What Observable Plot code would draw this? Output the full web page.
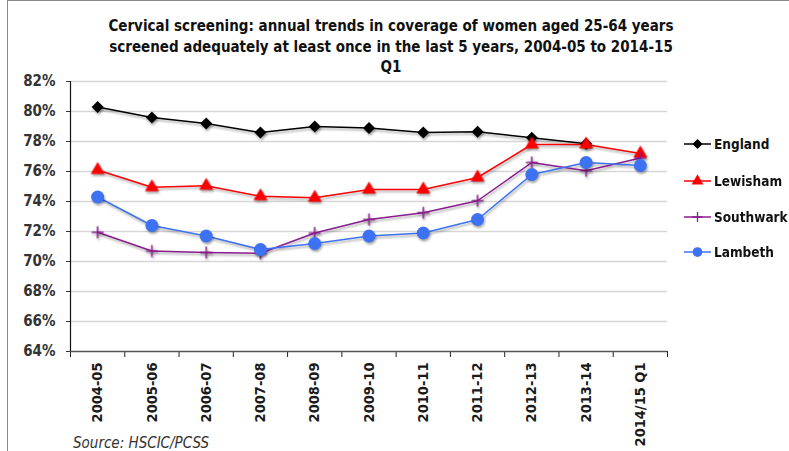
<!DOCTYPE html>
<html>
<head>
<meta charset="utf-8">
<script src="https://cdn.jsdelivr.net/npm/d3@7"></script>
<script src="https://cdn.jsdelivr.net/npm/@observablehq/plot@0.6"></script>
<style>
  body { margin: 0; background: #fff; }
  #wrap { position: relative; width: 789px; height: 451px; overflow: hidden;
          font-family: "DejaVu Sans Condensed", "DejaVu Sans", sans-serif; font-stretch: condensed; }
  #frame { position: absolute; left: 7px; top: 0; width: 790px; height: 460px;
           border-top: 1.5px solid #8a8a8a; border-left: 1.5px solid #8a8a8a; box-sizing: border-box; pointer-events: none; }
  #title { position: absolute; left: 0; width: 782px; top: 16px; text-align: center;
           font-weight: bold; font-size: 15px; line-height: 20.5px; color: #111; }
  #source { position: absolute; left: 73px; top: 436px; font-style: italic; font-size: 15px; line-height: 14px; color: #333; }
  .leg { position: absolute; left: 684px; display: flex; align-items: center; height: 16px;
         font-weight: bold; font-size: 13.5px; color: #111; }
  .leg svg { display: block; margin-right: 2px; }
  #chart { position: absolute; left: 0; top: 0; }
</style>
</head>
<body>
<div id="wrap">
  <div id="chart"></div>
  <div id="title">Cervical screening: annual trends in coverage of women aged 25-64 years<br>screened adequately at least once in the last 5 years, 2004-05 to 2014-15<br>Q1</div>
  <div id="source">Source: HSCIC/PCSS</div>
  <div id="legend"></div>
  <div id="frame"></div>
</div>
<script>
// ---- data ----
const years = ["2004-05", "2005-06", "2006-07", "2007-08", "2008-09", "2009-10",
               "2010-11", "2011-12", "2012-13", "2013-14", "2014/15 Q1"];
const england   = [80.3, 79.6, 79.2, 78.6, 79.0, 78.9, 78.6, 78.65, 78.25, 77.85, null];
const lewisham  = [76.1, 74.95, 75.05, 74.35, 74.25, 74.8, 74.8, 75.6, 77.8, 77.8, 77.2];
const southwark = [71.95, 70.7, 70.6, 70.55, 71.9, 72.8, 73.25, 74.05, 76.6, 76.05, 76.9];
const lambeth   = [74.3, 72.4, 71.7, 70.8, 71.2, 71.7, 71.9, 72.8, 75.8, 76.6, 76.4];
const seriesNames = ["England", "Lewisham", "Southwark", "Lambeth"];
const yTicks = [64, 66, 68, 70, 72, 74, 76, 78, 80, 82];

// ---- styles ----
const seriesColors = ["#000000", "#ff0000", "#8b1c8e", "#3d72f5"];
const seriesSymbols = ["diamond2", "triangle", "plus", "circle"];
const seriesR = [5.4, 5.2, 3.9, 6.5];
const legendY = [144, 181, 216.5, 252];

const values = [england, lewisham, southwark, lambeth];
const rows = [];
seriesNames.forEach((name, s) => values[s].forEach((v, i) => {
  if (v != null) rows.push({ i, name, v });
}));
const boundaries = d3.range(years.length + 1).map(k => k - 0.5);

const chart = Plot.plot({
  width: 789, height: 451,
  marginLeft: 70, marginRight: 122, marginTop: 81, marginBottom: 100,
  x: { type: "linear", domain: [-0.5, years.length - 0.5] },
  y: { domain: [64, 82] },
  color: { domain: seriesNames, range: seriesColors },
  style: { fontFamily: '"DejaVu Sans Condensed", "DejaVu Sans", sans-serif', fontStretch: "condensed", background: "transparent", overflow: "visible" },
  marks: [
    Plot.gridY(yTicks.filter(d => d > 64), { stroke: "#d6d6d6", strokeOpacity: 1, strokeWidth: 1.5 }),
    Plot.axisY({ ticks: yTicks, tickFormat: d => d + "%", tickSize: 4, tickPadding: 11, fontSize: 15, fontWeight: "bold", color: "#333", label: null }),
    Plot.axisX({ ticks: boundaries, tickSize: 6, tickFormat: () => "", stroke: "#222", label: null }),
    Plot.axisX({ ticks: d3.range(years.length), tickSize: 0, tickPadding: 11, tickFormat: i => years[i], tickRotate: -90, fontSize: 14.5, fontWeight: "bold", fill: "#1a1a1a", label: null }),
    Plot.ruleY([64], { stroke: "#555", strokeWidth: 1.5 }),
    Plot.ruleX([-0.5], { stroke: "#111", strokeWidth: 1.2 }),
    Plot.line(rows, { x: "i", y: "v", z: "name", stroke: "name", strokeWidth: 1.5 }),
    ...seriesNames.map((n, s) => Plot.dot(rows.filter(d => d.name === n), {
      x: "i", y: "v", symbol: seriesSymbols[s], r: seriesR[s],
      fill: s === 2 ? "none" : seriesColors[s],
      stroke: s === 2 ? seriesColors[s] : "none", strokeWidth: 1.5
    }))
  ]
});
chart.querySelectorAll('g[aria-label="line"], g[aria-label="dot"]').forEach(g => {
  g.style.filter = "drop-shadow(1.5px 2px 1.2px rgba(0,0,0,0.35))";
});
document.getElementById("chart").appendChild(chart);

// ---- legend ----
const symMap = { diamond2: d3.symbolDiamond2, triangle: d3.symbolTriangle, plus: d3.symbolPlus, circle: d3.symbolCircle };
const legend = document.getElementById("legend");
seriesNames.forEach((n, s) => {
  const div = document.createElement("div");
  div.className = "leg";
  div.style.top = (legendY[s] - 8) + "px";
  const size = Math.PI * seriesR[s] * seriesR[s];
  const path = d3.symbol(symMap[seriesSymbols[s]], size)();
  const fill = s === 2 ? "none" : seriesColors[s];
  const stroke = s === 2 ? seriesColors[s] : "none";
  div.innerHTML = `<svg width="28" height="16"><line x1="0" x2="27" y1="8" y2="8" stroke="${seriesColors[s]}" stroke-width="1.5"/>` +
    `<path d="${path}" transform="translate(13.5,8) scale(${s === 3 ? 0.75 : 0.85})" fill="${fill}" stroke="${stroke}" stroke-width="1.5"/></svg><span>${n}</span>`;
  legend.appendChild(div);
});
</script>
</body>
</html>
